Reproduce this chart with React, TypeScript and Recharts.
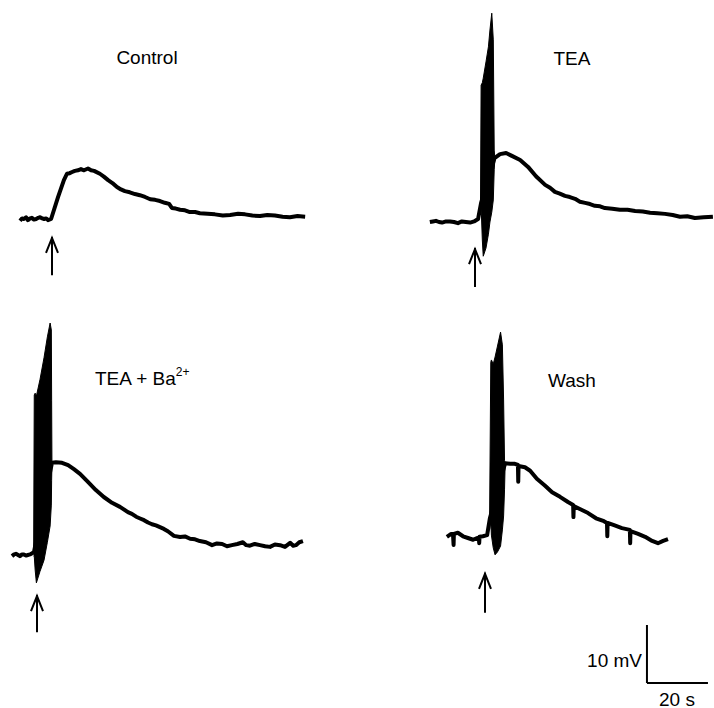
import { ComposedChart, Line, Area, XAxis, YAxis, ReferenceLine } from 'recharts';

// scale of the recording: pixels per second and per millivolt (20 s / 10 mV bars)
const PXS = 3.05;
const PXV = 5.8;

// [time s from stimulus, mV above resting level]
const controlTrace: [number, number][] = [
  [-10.5, -0.3], [-9.8, 0.1], [-9.2, 0], [-8.5, 0.3], [-7.9, -0.2], [-7.2, 0.1], [-6.6, 0.2], [-5.9, -0.1],
  [-5.2, 0], [-4.5, 0.2], [-3.9, 0.3], [-3.2, 0.1], [-2.6, 0], [-1.9, 0.1], [-1.3, -0.2], [-0.3, 0],
  [2.0, 3.8], [3.9, 6.7], [4.9, 7.8], [5.8, 7.9], [6.6, 8.1], [7.5, 8.3], [8.5, 8.4], [9.5, 8.6],
  [10.5, 8.4], [11.8, 8.7], [12.8, 8.4], [13.8, 8.3], [15.7, 7.8], [17.0, 7.3], [18.4, 6.7], [19.8, 6.2],
  [21.3, 5.5], [22.6, 5.1], [23.9, 4.8], [25.5, 4.6], [27.2, 4.3], [28.8, 4.1], [30.5, 3.8], [32.2, 3.4],
  [33.8, 3.3], [35.4, 3.1], [37.0, 2.8], [38.4, 2.6], [39.3, 1.9], [40.6, 1.8], [42.0, 1.6], [43.6, 1.5],
  [45.2, 1.2], [46.9, 1.2], [48.5, 1.0], [51.0, 0.9], [53.4, 0.8], [56.0, 0.6], [58.4, 0.7], [61.0, 0.9],
  [63.3, 0.8], [65.7, 0.6], [68.2, 0.5], [70.6, 0.7], [73.1, 0.6], [75.6, 0.4], [78.0, 0.3], [80.5, 0.5],
  [83.0, 0.4],
];

const teaTrace: [number, number][] = [
  [-14.8, 0], [-13.8, 0.1], [-12.8, 0.2], [-11.8, 0], [-10.8, -0.1], [-9.5, 0.1], [-8.2, 0.1], [-6.9, 0],
  [-5.6, -0.2], [-4.3, 0.1], [-3.0, 0], [-1.6, -0.1], [-0.3, 0.1], [1.0, 0.5], [2.0, 3.3], [6.4, 11.0],
  [8.2, 11.7], [10.2, 11.9], [12.1, 11.4], [14.8, 10.7], [17.4, 9.5], [20.0, 7.9], [23.0, 6.4], [24.6, 5.9],
  [26.2, 5.2], [27.8, 4.9], [29.5, 4.5], [31.1, 4.3], [32.8, 4.0], [34.4, 3.5], [36.1, 3.3], [37.7, 3.1],
  [39.3, 2.8], [41.0, 2.7], [42.6, 2.4], [45.0, 2.3], [47.5, 2.1], [50.0, 2.1], [52.5, 1.9], [55.0, 1.8],
  [57.4, 1.6], [59.8, 1.5], [62.3, 1.4], [64.8, 1.2], [67.2, 0.9], [69.6, 1.0], [72.1, 0.7], [75.0, 0.8],
  [78.0, 0.9],
];
// spike burst envelope: [time, low, high]
const teaBurst: [number, number, number][] = [
  [1.8, 1.2, 2.9], [2.0, 2.9, 23.6], [2.4, -3.1, 24.0], [2.7, -5.9, 24.8], [3.6, -4.5, 27.6],
  [4.4, -2.1, 30.2], [4.9, 0, 33.1], [5.5, 1.7, 36.0], [6.0, 3.8, 31.4], [6.3, 9.0, 12.4], [6.5, 10.7, 11.0],
];

const teaBaTrace: [number, number][] = [
  [-8.2, -0.2], [-7.5, 0.1], [-6.9, 0.2], [-6.2, 0], [-5.6, -0.2], [-4.9, 0.1], [-4.3, 0.1], [-3.6, -0.1],
  [-3.0, 0], [-2.3, 0.1], [-1.6, 0.3], [-1.0, 0.5],
  [4.9, 15.9], [6.2, 16.0], [8.2, 15.9], [10.2, 15.5], [12.1, 14.8], [14.1, 14.0], [16.7, 12.6],
  [19.3, 11.2], [21.9, 10.0], [24.6, 9.0], [27.2, 8.3], [29.8, 7.4], [31.1, 7.1], [32.5, 6.6], [33.8, 6.3],
  [35.1, 6.0], [36.4, 5.6], [37.7, 5.3], [39.0, 5.1], [40.3, 4.8], [41.6, 4.5], [42.9, 4.1], [44.9, 3.3],
  [46.9, 3.1], [48.5, 3.2], [50.2, 2.8], [51.8, 2.7], [53.4, 2.4], [55.4, 2.2], [57.4, 1.7], [59.0, 2.0],
  [60.7, 1.9], [62.3, 1.5], [63.9, 1.7], [65.7, 1.9], [67.5, 2.2], [68.6, 1.7], [69.8, 1.6], [71.4, 1.9],
  [73.1, 1.7], [74.8, 1.5], [76.4, 1.4], [78.0, 1.8], [79.7, 1.7], [81.3, 1.4], [83.0, 2.1], [84.0, 1.6],
  [84.9, 1.7], [86.0, 2.2], [87.2, 2.4],
];
const teaBaBurst: [number, number, number][] = [
  [-1.1, -0.2, 0.5], [-0.9, -0.2, 27.6], [-0.6, -2.6, 27.9], [-0.2, -4.8, 27.4], [1.0, -2.8, 30.3],
  [2.3, -0.9, 34.0], [3.4, 2.2, 37.6], [4.3, 5.0, 40.0], [4.7, 8.6, 38.8], [4.8, 12.9, 26.7], [4.9, 15.7, 16.0],
];

const washTrace: [number, number][] = [
  [-12.5, 0.2], [-11.1, 0.7], [-10.5, 0.7], [-10.3, -1.2], [-10.2, 0.7], [-8.9, 0.9], [-7.2, 0.3],
  [-5.6, 0], [-3.9, -0.3], [-2.6, 0], [-2.0, 0], [-1.9, -0.9], [-1.8, 0.2], [-0.7, 0.3], [0.7, 0.5],
  [1.6, 3.4], [6.6, 12.9], [8.2, 12.8], [9.8, 12.8], [10.8, 12.6], [10.9, 9.7], [11.0, 12.4], [13.1, 12.2],
  [14.8, 11.6], [17.0, 10.2], [19.7, 9.0], [22.0, 7.9], [24.6, 7.1], [27.2, 6.2], [28.9, 5.7], [29.0, 3.6],
  [29.1, 5.5], [31.1, 5.0], [33.8, 4.3], [36.4, 3.4], [39.0, 2.9], [40.0, 2.6], [40.1, 0.3], [40.2, 2.6],
  [42.3, 2.2], [44.9, 1.7], [47.5, 1.4], [47.6, -0.9], [47.7, 1.2], [50.2, 0.7], [52.5, 0.2], [54.8, -0.5],
  [56.7, -0.9], [58.4, -0.5], [60.0, -0.2],
];
const washBurst: [number, number, number][] = [
  [1.5, 1.4, 3.1], [1.9, 3.1, 30.3], [2.1, 0.5, 30.7], [2.7, -1.7, 30.0], [3.3, -2.9, 31.2],
  [4.1, -2.4, 33.1], [5.1, -1.4, 35.5], [5.7, 1.4, 33.3], [6.1, 3.8, 23.8], [6.4, 8.3, 13.4], [6.6, 12.6, 12.9],
];

// stimulus arrows at t = 0: [bottom mV, tip mV]
const controlArrow: [number, number] = [-9.7, -3.1];
const teaArrow: [number, number] = [-11.2, -4.5];
const teaBaArrow: [number, number] = [-13.3, -6.9];
const washArrow: [number, number] = [-12.9, -6.0];

// calibration bar (drawn in the Wash panel's units)
const scaleBar = { t: 53.1, v: -25, dt: 20, dv: 10 };

const FONT = '"Liberation Sans", Arial, Helvetica, sans-serif';

type Cfg = { left: number; top: number; width: number; height: number; x0: number; y0: number };

const layout: Record<string, Cfg> = {
  control: { left: 0, top: 0, width: 330, height: 300, x0: 52, y0: 219 },
  tea: { left: 405, top: 0, width: 309, height: 300, x0: 475, y0: 222 },
  teaBa: { left: 0, top: 300, width: 330, height: 345, x0: 37, y0: 555 },
  wash: { left: 420, top: 300, width: 294, height: 408, x0: 485, y0: 538 },
};

function ArrowShape(props: any) {
  const { x1, y1, x2, y2 } = props;
  const x = (x1 + x2) / 2;
  const tip = Math.min(y1, y2);
  const end = Math.max(y1, y2);
  return (
    <g stroke="#000" strokeWidth={2} fill="none">
      <line x1={x} y1={tip} x2={x} y2={end} />
      <path d={`M${x - 6},${tip + 16} L${x},${tip + 1} L${x + 6},${tip + 16}`} strokeLinejoin="miter" />
    </g>
  );
}

function Panel({
  cfg,
  trace,
  burst,
  arrow,
  withScale,
}: {
  cfg: Cfg;
  trace: [number, number][];
  burst: [number, number, number][];
  arrow: [number, number];
  withScale?: boolean;
}) {
  const data: any[] = [
    ...trace.map(([t, v]) => ({ t, v })),
    ...burst.map(([t, lo, hi]) => ({ t, band: [lo, hi] })),
  ].sort((a, b) => a.t - b.t);
  const xd = [(cfg.left - cfg.x0) / PXS, (cfg.left + cfg.width - cfg.x0) / PXS];
  const yd = [(cfg.y0 - cfg.top - cfg.height) / PXV, (cfg.y0 - cfg.top) / PXV];
  return (
    <div style={{ position: 'absolute', left: cfg.left, top: cfg.top }}>
      <ComposedChart width={cfg.width} height={cfg.height} data={data} margin={{ top: 0, right: 0, bottom: 0, left: 0 }}>
        <XAxis dataKey="t" type="number" domain={xd} hide allowDataOverflow />
        <YAxis type="number" domain={yd} hide allowDataOverflow />
        <Area
          dataKey="band"
          type="linear"
          stroke="#000"
          strokeWidth={1}
          fill="#000"
          fillOpacity={1}
          connectNulls
          dot={false}
          activeDot={false}
          isAnimationActive={false}
        />
        <Line
          dataKey="v"
          type="linear"
          stroke="#000"
          strokeWidth={4}
          strokeLinejoin="round"
          connectNulls
          dot={false}
          activeDot={false}
          isAnimationActive={false}
        />
        <ReferenceLine
          segment={[{ x: 0, y: arrow[0] }, { x: 0, y: arrow[1] }]}
          shape={ArrowShape}
          ifOverflow="visible"
        />
        {withScale && (
          <ReferenceLine
            segment={[{ x: scaleBar.t, y: scaleBar.v }, { x: scaleBar.t, y: scaleBar.v + scaleBar.dv }]}
            stroke="#000"
            strokeWidth={2}
            ifOverflow="visible"
          />
        )}
        {withScale && (
          <ReferenceLine
            segment={[{ x: scaleBar.t, y: scaleBar.v }, { x: scaleBar.t + scaleBar.dt, y: scaleBar.v }]}
            stroke="#000"
            strokeWidth={2}
            ifOverflow="visible"
          />
        )}
      </ComposedChart>
    </div>
  );
}

export default function App() {
  return (
    <div style={{ position: 'absolute', left: 0, top: 0, width: 714, height: 708, background: '#fff', overflow: 'hidden' }}>
      <Panel cfg={layout.control} trace={controlTrace} burst={[]} arrow={controlArrow} />
      <Panel cfg={layout.tea} trace={teaTrace} burst={teaBurst} arrow={teaArrow} />
      <Panel cfg={layout.teaBa} trace={teaBaTrace} burst={teaBaBurst} arrow={teaBaArrow} />
      <Panel cfg={layout.wash} trace={washTrace} burst={washBurst} arrow={washArrow} withScale />
      <svg
        width={714}
        height={708}
        style={{ position: 'absolute', left: 0, top: 0, pointerEvents: 'none' }}
        fontFamily={FONT}
        fontSize={19}
        fill="#000"
      >
        <text x={147} y={57} textAnchor="middle" dominantBaseline="central">Control</text>
        <text x={572} y={58} textAnchor="middle" dominantBaseline="central">TEA</text>
        <text x={95} y={378} dominantBaseline="central">
          TEA + Ba<tspan fontSize={12} dy={-6}>2+</tspan>
        </text>
        <text x={572} y={380} textAnchor="middle" dominantBaseline="central">Wash</text>
        <text x={642} y={660} textAnchor="end" dominantBaseline="central">10 mV</text>
        <text x={677} y={699} textAnchor="middle" dominantBaseline="central">20 s</text>
      </svg>
    </div>
  );
}
